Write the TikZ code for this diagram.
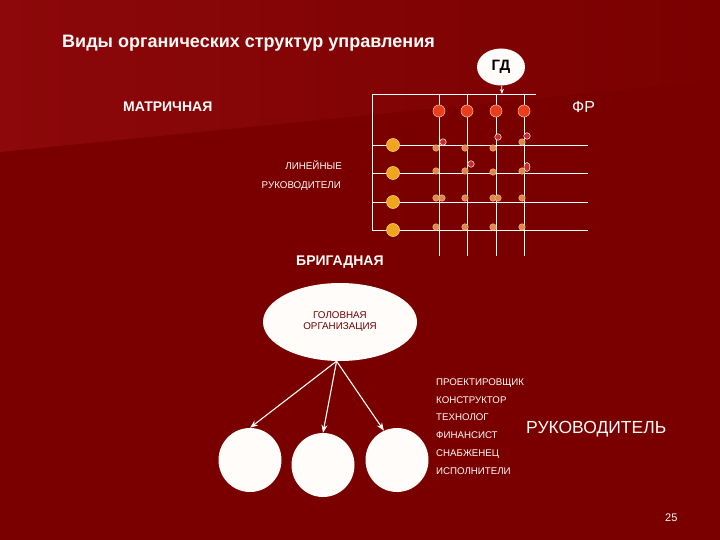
\documentclass[tikz,border=0pt]{standalone}
\usepackage{fontspec}
\setmainfont{Liberation Sans}
\usetikzlibrary{shapes.geometric,arrows.meta}

\definecolor{fond}{RGB}{122,0,0}
\definecolor{fondclair}{RGB}{140,8,10}
\definecolor{blanc}{RGB}{255,252,250}
\definecolor{rougevif}{RGB}{232,62,28}
\definecolor{rosepale}{RGB}{250,175,150}
\definecolor{orange1}{RGB}{240,165,30}
\definecolor{orpale}{RGB}{250,205,110}
\definecolor{orpoint}{RGB}{215,140,70}
\definecolor{rougepoint}{RGB}{205,40,40}
\definecolor{texteorg}{RGB}{110,0,0}

\begin{document}
\begin{tikzpicture}[x=1pt,y=-1pt,
    >={Stealth[length=8pt,width=6pt]},
    ligne/.style={draw=blanc, line width=0.9pt},
    fleche/.style={->, draw=blanc, fill=blanc, line width=1.1pt},
    fr/.style={circle, draw=rosepale, fill=rougevif, line width=0.6pt, minimum size=12pt, inner sep=0pt},
    lin/.style={circle, draw=orpale, fill=orange1, line width=0.6pt, minimum size=13pt, inner sep=0pt},
    point/.style={circle, draw=rosepale, fill=orpoint, line width=0.5pt, minimum size=6.5pt, inner sep=0pt},
    pointr/.style={point, fill=rougepoint, draw=blanc},
    texte/.style={text=blanc, inner sep=0pt},
    bulle/.style={ellipse, fill=blanc, draw=none, inner sep=0pt}]

    % Fond de la diapositive
    \fill[fond] (0,0) rectangle (720,540);
    \shade[left color=fondclair, right color=fond] (0,0) -- (720,0) -- (720,80) -- (0,152) -- cycle;
    \useasboundingbox (0,0) rectangle (720,540);

    % Titres
    \node[texte, anchor=base west, font=\bfseries\fontsize{18}{20}\selectfont] (titre) at (62,48) {Виды органических структур управления};
    \node[texte, anchor=base west, font=\bfseries\fontsize{14}{16}\selectfont] (matr) at (123,111.5) {МАТРИЧНАЯ};
    \node[texte, anchor=base west, font=\fontsize{16}{18}\selectfont] (frtxt) at (572,112.5) {ФР};
    \node[texte, anchor=base east, font=\fontsize{9.8}{11}\selectfont] (lin1) at (342,170) {ЛИНЕЙНЫЕ};
    \node[texte, anchor=base east, font=\fontsize{9.8}{11}\selectfont] (lin2) at (341,188.5) {РУКОВОДИТЕЛИ};

    % Grille de la structure matricielle
    \draw[ligne] (536,94) -- (372,94) -- (372,230);
    \foreach \y in {145,173,202,230}
        \draw[ligne] (372,\y) -- (588,\y);
    \foreach \x in {439,467,496,524}
        \draw[ligne] (\x,94) -- (\x,256);

    % Responsables fonctionnels et linéaires
    \foreach \x [count=\i] in {439,467,496,524}
        \node[fr] (fr\i) at (\x,111) {};
    \foreach \y [count=\i] in {145,173,202,230}
        \node[lin] (lr\i) at (393,\y) {};

    % Points aux croisements
    \foreach \x/\y [count=\i] in {436/148,465/148,493/148,522/142,
                                  436/171,465/171,493/172,522/171,
                                  436/198,442/198,465/198,493/198,498/198,522/198,
                                  436/227,465/227,493/227,522/227}
        \node[point] (p\i) at (\x,\y) {};
    \foreach \x/\y [count=\i] in {443/142,498/137,527/136,471/164}
        \node[pointr] (q\i) at (\x,\y) {};
    \node[pointr, ellipse, minimum width=6pt, minimum height=9pt] (q5) at (527,167) {};

    % Directeur général
    \node[bulle, minimum width=48pt, minimum height=37pt, font=\bfseries\fontsize{15}{16}\selectfont] (gd) at (501,67) {ГД};
    \coordinate (gdbas) at (502,94);
    \draw[fleche, line width=0.8pt, >={Stealth[length=5pt,width=4pt]}] (gd) -- (gdbas);

    % Structure de brigade
    \node[texte, anchor=base west, font=\bfseries\fontsize{14}{16}\selectfont] (brig) at (296,265) {БРИГАДНАЯ};
    \node[bulle, minimum width=154pt, minimum height=78pt, text=texteorg, align=center, font=\fontsize{9.8}{11}\selectfont] (org) at (340,322) {ГОЛОВНАЯ\\ОРГАНИЗАЦИЯ};
    \node[bulle, minimum width=63pt, minimum height=64pt] (eq1) at (250,460) {};
    \node[bulle, minimum width=63pt, minimum height=64pt] (eq2) at (323,465) {};
    \node[bulle, minimum width=63pt, minimum height=64pt] (eq3) at (397,460) {};

    \draw[fleche] (org.265) -- (eq1.north);
    \draw[fleche] (org.265) -- (eq2.north);
    \draw[fleche] (org.265) -- (eq3.114);

    % Liste des spécialistes
    \foreach \t [count=\i] in {ПРОЕКТИРОВЩИК,КОНСТРУКТОР,ТЕХНОЛОГ,ФИНАНСИСТ,СНАБЖЕНЕЦ,ИСПОЛНИТЕЛИ}
        \node[texte, anchor=base west, font=\fontsize{9.7}{11}\selectfont] (spec\i) at (436,385.5+17.7*\i-17.7) {\t};
    \node[texte, anchor=base west, font=\fontsize{17.5}{19}\selectfont] (ruk) at (526,433) {РУКОВОДИТЕЛЬ};

    % Numéro de page
    \node[texte, anchor=base west, font=\fontsize{11}{12}\selectfont] (num) at (665,521.5) {25};

\end{tikzpicture}
\end{document}
